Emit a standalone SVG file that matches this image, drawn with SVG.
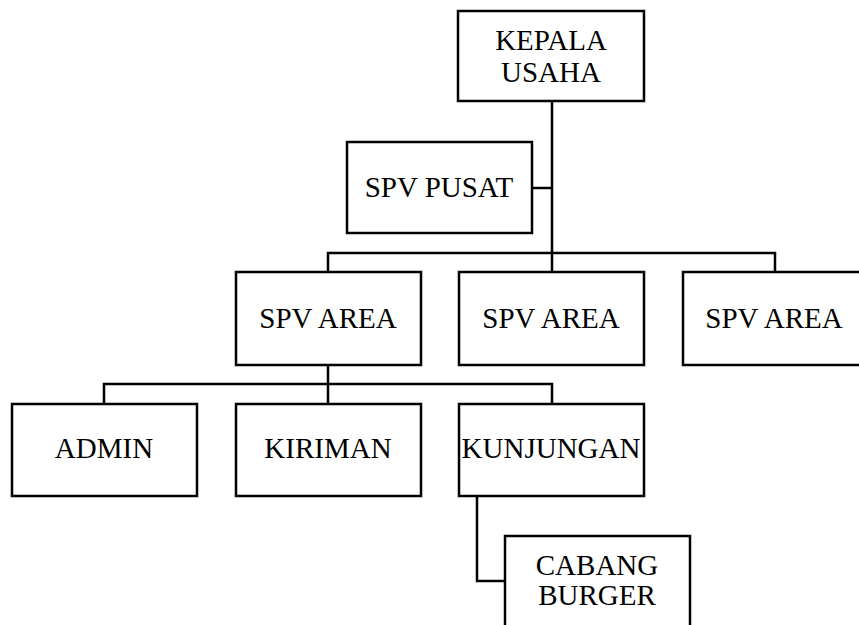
<svg xmlns="http://www.w3.org/2000/svg" width="859" height="625" viewBox="0 0 859 625">
<style>
.box{fill:#fff;stroke:#000;stroke-width:2.5}
.ln{fill:none;stroke:#000;stroke-width:2.5}
text{font-family:"Liberation Serif","Times New Roman",serif;font-size:29px;fill:#000;text-anchor:middle}
</style>
<rect width="859" height="625" fill="#fff"/>
<g id="connectors">
<path class="ln" d="M552 101 V272"/>
<path class="ln" d="M532 188 H552"/>
<path class="ln" d="M328 272 V253 H775 V272"/>
<path class="ln" d="M328 365 V404"/>
<path class="ln" d="M104 404 V384 H552 V404"/>
<path class="ln" d="M477 496 V581 H505"/>
</g>
<g id="kepala"><rect class="box" x="458" y="11" width="186" height="90"/><text x="551" y="50">KEPALA</text><text x="551" y="82">USAHA</text></g>
<g id="spvpusat"><rect class="box" x="347" y="142" width="185" height="91"/><text x="439" y="197">SPV PUSAT</text></g>
<g id="spvarea1"><rect class="box" x="236" y="272" width="185" height="93"/><text x="328" y="328">SPV AREA</text></g>
<g id="spvarea2"><rect class="box" x="459" y="272" width="185" height="93"/><text x="551" y="328">SPV AREA</text></g>
<g id="spvarea3"><rect class="box" x="683" y="272" width="186" height="93"/><text x="774" y="328">SPV AREA</text></g>
<g id="admin"><rect class="box" x="12" y="404" width="185" height="92"/><text x="104" y="458">ADMIN</text></g>
<g id="kiriman"><rect class="box" x="236" y="404" width="185" height="92"/><text x="328" y="458">KIRIMAN</text></g>
<g id="kunjungan"><rect class="box" x="459" y="404" width="185" height="92"/><text x="551" y="458">KUNJUNGAN</text></g>
<g id="cabang"><rect class="box" x="505" y="536" width="185" height="100"/><text x="597" y="575">CABANG</text><text x="597" y="605">BURGER</text></g>
</svg>
